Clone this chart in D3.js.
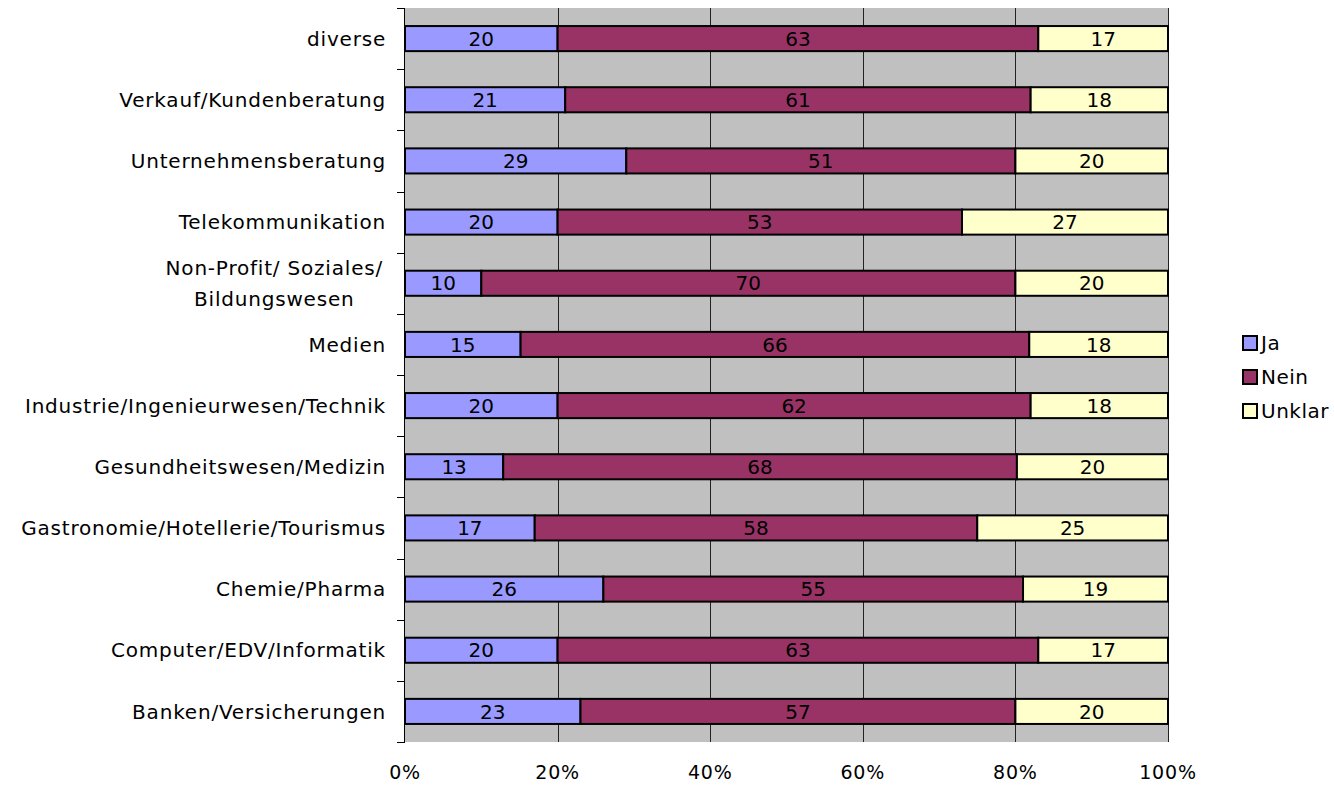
<!DOCTYPE html>
<html>
<head>
<meta charset="utf-8">
<script src="https://cdn.jsdelivr.net/npm/d3@7"></script>
<style>
  html, body { margin: 0; padding: 0; background: #fff; }
  svg { display: block; font-family: "DejaVu Sans", Verdana, sans-serif; }
</style>
</head>
<body>
<svg id="chart" width="1334" height="785"></svg>
<script>
// Branchen, von oben nach unten
const categories = [
  "diverse",
  "Verkauf/Kundenberatung",
  "Unternehmensberatung",
  "Telekommunikation",
  "Non-Profit/ Soziales/ Bildungswesen",
  "Medien",
  "Industrie/Ingenieurwesen/Technik",
  "Gesundheitswesen/Medizin",
  "Gastronomie/Hotellerie/Tourismus",
  "Chemie/Pharma",
  "Computer/EDV/Informatik",
  "Banken/Versicherungen"
];
// Zeilenumbrüche für lange Beschriftungen
const labelLines = {
  "Non-Profit/ Soziales/ Bildungswesen": ["Non-Profit/ Soziales/", "Bildungswesen"]
};
const seriesNames = ["Ja", "Nein", "Unklar"];
const ja     = [20, 21, 29, 20, 10, 15, 20, 13, 17, 26, 20, 23];
const nein   = [63, 61, 51, 53, 70, 66, 62, 68, 58, 55, 63, 57];
const unklar = [17, 18, 20, 27, 20, 18, 18, 20, 25, 19, 17, 20];
const tickValues = [0, 0.2, 0.4, 0.6, 0.8, 1.0];
const colors = ["#9999FF", "#993366", "#FFFFCC"];

const rows = categories.map((c, i) => ({ cat: c, Ja: ja[i], Nein: nein[i], Unklar: unklar[i] }));

const svg = d3.select("#chart");
const plot = { left: 405, right: 1168, top: 8, bottom: 742 };

const x = d3.scaleLinear().domain([0, 1]).range([plot.left, plot.right]);
const y = d3.scaleBand().domain(categories).range([plot.top, plot.bottom])
  .paddingInner(0.59).paddingOuter(0.295);
const color = d3.scaleOrdinal().domain(seriesNames).range(colors);

const stack = d3.stack().keys(seriesNames).offset(d3.stackOffsetExpand);
const stacked = stack(rows);

const fontSize = 20;

// Plotfläche
svg.append("rect")
  .attr("x", plot.left).attr("y", plot.top)
  .attr("width", plot.right - plot.left).attr("height", plot.bottom - plot.top)
  .attr("fill", "#C0C0C0");

// Gitterlinien
svg.append("g").selectAll("line")
  .data(tickValues.slice(1))
  .join("line")
  .attr("x1", d => Math.round(x(d)) + 0.5).attr("x2", d => Math.round(x(d)) + 0.5)
  .attr("y1", plot.top).attr("y2", plot.bottom)
  .attr("stroke", "#222").attr("stroke-width", 1);

// Balken
const layers = svg.append("g").selectAll("g")
  .data(stacked)
  .join("g")
  .attr("fill", d => color(d.key));

layers.selectAll("rect")
  .data(d => d.map(v => ({ v, key: d.key })))
  .join("rect")
  .attr("x", d => x(d.v[0]))
  .attr("y", d => y(d.v.data.cat))
  .attr("width", d => x(d.v[1]) - x(d.v[0]))
  .attr("height", y.bandwidth())
  .attr("stroke", "#000")
  .attr("stroke-width", 2);

// Werte in den Balken
layers.selectAll("text")
  .data(d => d.map(v => ({ v, key: d.key })))
  .join("text")
  .attr("x", d => (x(d.v[0]) + x(d.v[1])) / 2)
  .attr("y", d => y(d.v.data.cat) + y.bandwidth() / 2)
  .attr("dy", "0.36em")
  .attr("text-anchor", "middle")
  .attr("font-size", fontSize)
  .attr("fill", "#000")
  .text(d => d.v.data[d.key]);

// Kategorienachse
const yAxisBoundaries = d3.range(categories.length + 1).map(i => plot.top + i * y.step());
const axisG = svg.append("g");
axisG.append("line")
  .attr("x1", plot.left - 0.5).attr("x2", plot.left - 0.5)
  .attr("y1", plot.top).attr("y2", plot.bottom)
  .attr("stroke", "#000").attr("stroke-width", 1);
axisG.selectAll("line.tick")
  .data(yAxisBoundaries)
  .join("line")
  .attr("class", "tick")
  .attr("x1", plot.left - 8).attr("x2", plot.left)
  .attr("y1", d => Math.round(d) + 0.5).attr("y2", d => Math.round(d) + 0.5)
  .attr("stroke", "#000").attr("stroke-width", 1);

const labelRight = 386;
categories.forEach(c => {
  const cy = y(c) + y.bandwidth() / 2;
  const lines = labelLines[c];
  if (!lines) {
    axisG.append("text")
      .attr("x", labelRight).attr("y", cy).attr("dy", "0.36em")
      .attr("text-anchor", "end")
      .attr("font-size", fontSize).attr("letter-spacing", 0.8)
      .text(c);
  } else {
    const lh = 31;
    const g = axisG.append("g");
    const texts = lines.map((ln, i) => g.append("text")
      .attr("y", cy + (i - (lines.length - 1) / 2) * lh).attr("dy", "0.36em")
      .attr("text-anchor", "middle")
      .attr("font-size", fontSize).attr("letter-spacing", 0.8)
      .text(ln));
    const maxW = d3.max(texts, t => t.node().getComputedTextLength()) + 6;
    texts.forEach(t => t.attr("x", labelRight - maxW / 2));
  }
});

// Prozentachse
svg.append("g").selectAll("text")
  .data(tickValues)
  .join("text")
  .attr("x", d => x(d))
  .attr("y", 772)
  .attr("dy", "0.36em")
  .attr("text-anchor", "middle")
  .attr("font-size", 19).attr("letter-spacing", 0.8)
  .text(d => d3.format(".0%")(d));

// Legende
const legend = svg.append("g");
seriesNames.forEach((s, i) => {
  const ly = 343 + i * 34;
  legend.append("rect")
    .attr("x", 1243).attr("y", ly - 7)
    .attr("width", 14).attr("height", 14)
    .attr("fill", color(s)).attr("stroke", "#000").attr("stroke-width", 2);
  legend.append("text")
    .attr("x", 1261).attr("y", ly).attr("dy", "0.36em")
    .attr("font-size", fontSize).attr("letter-spacing", 0.5)
    .text(s);
});
</script>
</body>
</html>
